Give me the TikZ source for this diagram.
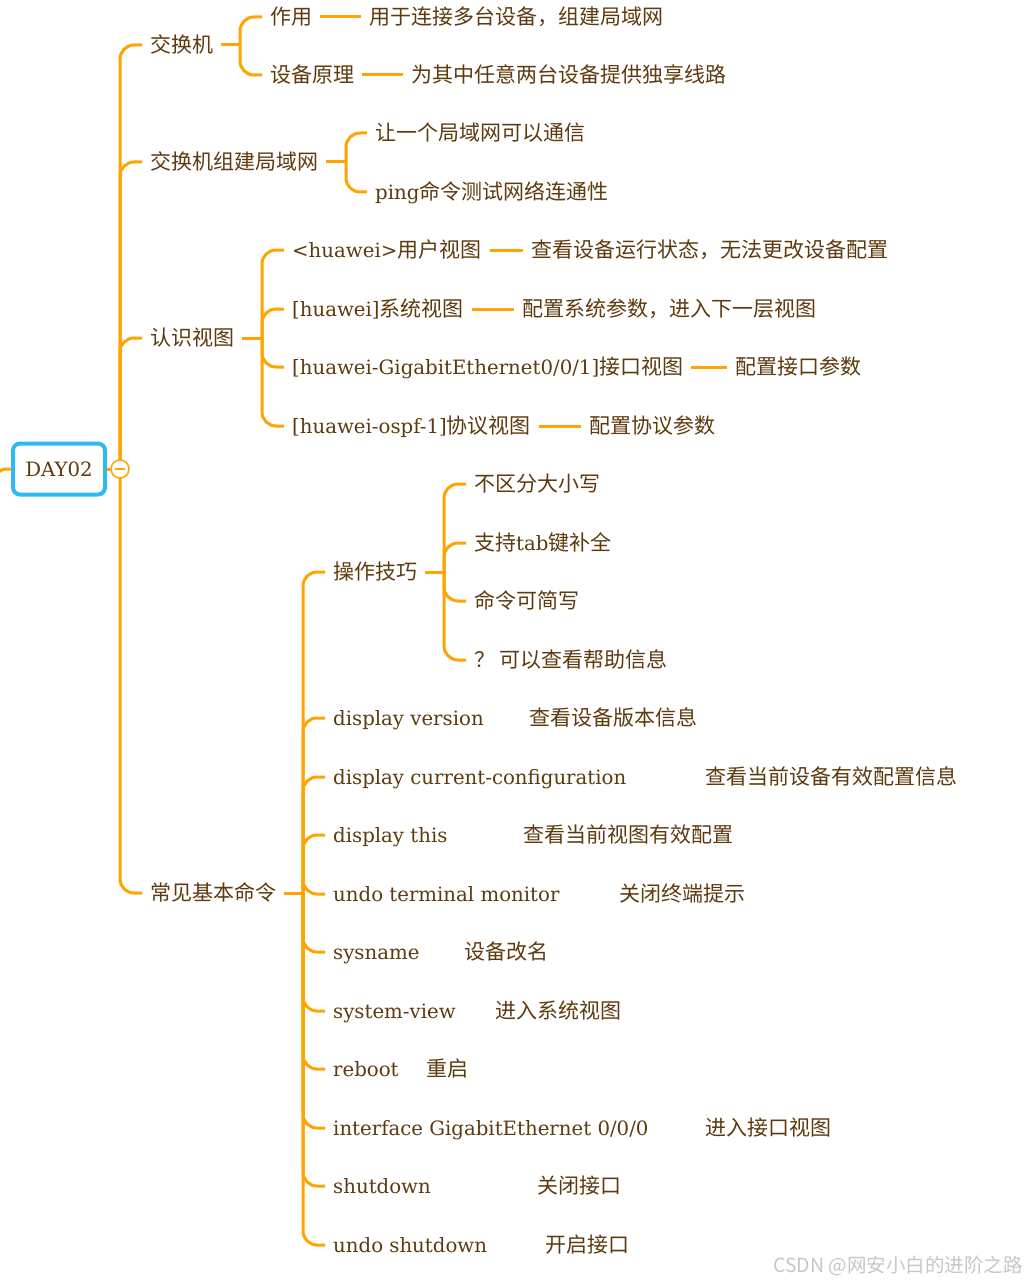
\documentclass[tikz,border=0pt]{standalone}
\usepackage{fontspec}
\setmainfont{DejaVu Serif}[Scale=0.94]
\newfontfamily\cjk{Noto Sans CJK SC}
\usetikzlibrary{calc}

\definecolor{branchc}{HTML}{FFA400}
\definecolor{textc}{HTML}{5E3A0E}
\definecolor{rootc}{HTML}{2FB9F2}
\newcommand{\zh}[1]{{\cjk #1}}

\tikzset{
  topic/.style={anchor=west, inner xsep=8pt, inner ysep=2pt, text=textc,
    text height=17.5pt, text depth=2.5pt,
    font=\fontsize{21}{25}\selectfont},
  branch/.style={draw=branchc, line width=3pt, rounded corners=14pt},
}

\begin{document}
\begin{tikzpicture}[x=1pt,y=-1pt]
\useasboundingbox[fill=white] (0,0) rectangle (1028,1284);

% root and fold mark
\node[draw=rootc, line width=4pt, rounded corners=7pt, fill=white,
  minimum width=92pt, minimum height=51pt, text=textc,
  font=\fontsize{21}{25}\selectfont] (day) at (59,469) {DAY02};
\coordinate (up) at (-7,540);
\draw[branch] (up) |- (day.west);
\coordinate (fold) at (120,469);

% first level
\node[topic] (sw)   at (142,45)  {\zh{交换机}};
\node[topic] (lan)  at (142,162) {\zh{交换机组建局域网}};
\node[topic] (view) at (142,338) {\zh{认识视图}};
\node[topic] (cmd)  at (142,893) {\zh{常见基本命令}};
\draw[branch] (fold) |- (sw.west);
\draw[branch] (fold) |- (lan.west);
\draw[branch] (fold) |- (view.west);
\draw[branch] (fold) |- (cmd.west);
\draw[branch] (day.east) -- (fold);
\node[circle, draw=branchc, line width=1.5pt, fill=white, minimum size=18pt,
  inner sep=0pt] (foldmark) at (fold) {};
\draw[branchc, line width=1.5pt] ($(foldmark.center)+(-5,0)$) -- ($(foldmark.center)+(5,0)$);

% switch
\coordinate (j1) at (240,45);
\node[topic] (use)  at (262,17) {\zh{作用}};
\node[topic] (prin) at (262,75) {\zh{设备原理}};
\node[topic] (used) at (361,17) {\zh{用于连接多台设备，组建局域网}};
\node[topic] (prid) at (403,75) {\zh{为其中任意两台设备提供独享线路}};
\draw[branch] (sw.east) -- (j1);
\draw[branch] (j1) |- (use.west);
\draw[branch] (j1) |- (prin.west);
\draw[branch] (use.east) -- (used.west);
\draw[branch] (prin.east) -- (prid.west);

% lan
\coordinate (j2) at (346,162);
\node[topic] (comm) at (367,133) {\zh{让一个局域网可以通信}};
\node[topic] (ping) at (367,192) {ping\zh{命令测试网络连通性}};
\draw[branch] (lan.east) -- (j2);
\draw[branch] (j2) |- (comm.west);
\draw[branch] (j2) |- (ping.west);

% views
\coordinate (j3) at (262,338);
\node[topic] (uview) at (284,250) {<huawei>\zh{用户视图}};
\node[topic] (sview) at (284,309) {[huawei]\zh{系统视图}};
\node[topic] (iview) at (284,367) {[huawei-GigabitEthernet0/0/1]\zh{接口视图}};
\node[topic] (pview) at (284,426) {[huawei-ospf-1]\zh{协议视图}};
\node[topic] (uviewd) at (523,250) {\zh{查看设备运行状态，无法更改设备配置}};
\node[topic] (sviewd) at (514,309) {\zh{配置系统参数，进入下一层视图}};
\node[topic] (iviewd) at (727,367) {\zh{配置接口参数}};
\node[topic] (pviewd) at (581,426) {\zh{配置协议参数}};
\draw[branch] (view.east) -- (j3);
\draw[branch] (j3) |- (uview.west);
\draw[branch] (j3) |- (sview.west);
\draw[branch] (j3) |- (iview.west);
\draw[branch] (j3) |- (pview.west);
\draw[branch] (uview.east) -- (uviewd.west);
\draw[branch] (sview.east) -- (sviewd.west);
\draw[branch] (iview.east) -- (iviewd.west);
\draw[branch] (pview.east) -- (pviewd.west);

% commands
\coordinate (j4) at (303,893);
\node[topic] (tips)  at (325,572)  {\zh{操作技巧}};
\node[topic] (dver)  at (325,718)  {display version};
\node[topic] (dcur)  at (325,777)  {display current-configuration};
\node[topic] (dthis) at (325,835)  {display this};
\node[topic] (undot) at (325,894)  {undo terminal monitor};
\node[topic] (sysn)  at (325,952)  {sysname};
\node[topic] (sysv)  at (325,1011) {system-view};
\node[topic] (rebo)  at (325,1069) {reboot};
\node[topic] (intf)  at (325,1128) {interface GigabitEthernet 0/0/0};
\node[topic] (shut)  at (325,1186) {shutdown};
\node[topic] (undos) at (325,1245) {undo shutdown};
\draw[branch] (cmd.east) -- (j4);
\draw[branch] (j4) |- (tips.west);
\draw[branch] (j4) |- (dver.west);
\draw[branch] (j4) |- (dcur.west);
\draw[branch] (j4) |- (dthis.west);
\draw[branch] (j4) |- (undot.west);
\draw[branch] (j4) |- (sysn.west);
\draw[branch] (j4) |- (sysv.west);
\draw[branch] (j4) |- (rebo.west);
\draw[branch] (j4) |- (intf.west);
\draw[branch] (j4) |- (shut.west);
\draw[branch] (j4) |- (undos.west);
% descriptions, no connector
\node[topic] (dverd)  at (521,718)  {\zh{查看设备版本信息}};
\node[topic] (dcurd)  at (697,777)  {\zh{查看当前设备有效配置信息}};
\node[topic] (dthisd) at (515,835)  {\zh{查看当前视图有效配置}};
\node[topic] (undotd) at (611,894)  {\zh{关闭终端提示}};
\node[topic] (sysnd)  at (456,952)  {\zh{设备改名}};
\node[topic] (sysvd)  at (487,1011) {\zh{进入系统视图}};
\node[topic] (rebod)  at (418,1069) {\zh{重启}};
\node[topic] (intfd)  at (697,1128) {\zh{进入接口视图}};
\node[topic] (shutd)  at (529,1186) {\zh{关闭接口}};
\node[topic] (undosd) at (537,1245) {\zh{开启接口}};

% tips
\coordinate (j5) at (444,572);
\node[topic] (case) at (466,484) {\zh{不区分大小写}};
\node[topic] (tab)  at (466,543) {\zh{支持}tab\zh{键补全}};
\node[topic] (abbr) at (466,601) {\zh{命令可简写}};
\node[topic] (help) at (466,660) {\zh{？ 可以查看帮助信息}};
\draw[branch] (tips.east) -- (j5);
\draw[branch] (j5) |- (case.west);
\draw[branch] (j5) |- (tab.west);
\draw[branch] (j5) |- (abbr.west);
\draw[branch] (j5) |- (help.west);

% watermark
\node[anchor=east, text=black!22, font=\cjk\fontsize{19.5}{22}\selectfont]
  (mark) at (1026,1266) {CSDN @网安小白的进阶之路};
\end{tikzpicture}
\end{document}
